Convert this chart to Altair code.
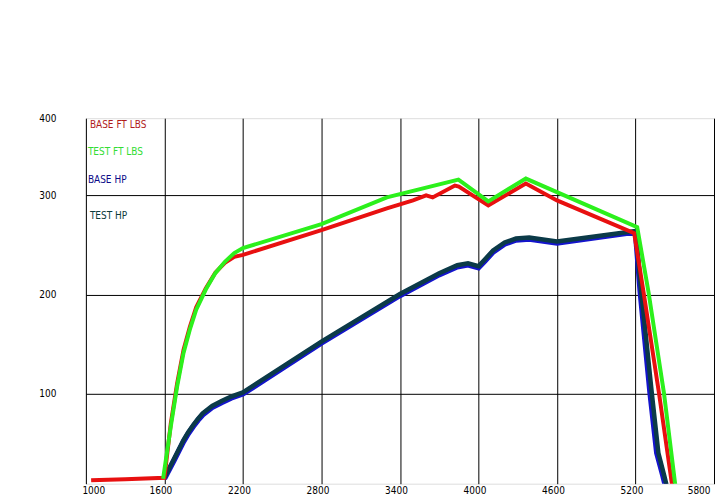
import altair as alt
import pandas as pd

# ---- data ----
base_tq_rpm = [1040, 1300, 1600, 1649, 1697, 1746, 1794, 1843, 1916, 1989, 2062, 2134, 2200, 2800, 3300, 3500, 3600, 3650, 3820, 3850, 4075, 4362, 4600, 5190, 5262, 5380, 5490]
base_tq = [12.5, 13.5, 15, 70, 110, 144, 167, 187, 206, 222, 232, 238, 240, 265, 287, 295, 300, 298, 310, 309, 290, 312, 295, 262, 202, 100, -2]

test_tq_rpm = [1590, 1649, 1697, 1746, 1794, 1843, 1916, 1989, 2062, 2134, 2200, 2800, 3300, 3847, 4075, 4362, 5213, 5300, 5418, 5513]
test_tq = [14, 67, 107, 141, 164.5, 184.6, 205, 221.6, 233, 241.8, 246.8, 271, 298, 316, 294, 317, 268, 202, 100, -2]

base_hp_rpm = [1600, 1673, 1746, 1782, 1819, 1856, 1892, 1965, 2037, 2110, 2200, 2800, 3400, 3700, 3838, 3920, 4000, 4050, 4112, 4200, 4287, 4388, 4600, 5200, 5237, 5312, 5363, 5410, 5445]
base_hp = [14, 32.5, 51.5, 59.5, 66.5, 73, 78.5, 86, 91, 95.6, 99.7, 151, 199, 220, 228, 230, 227, 234, 243, 251, 255, 256, 252, 263, 202, 100, 40, 17, -2]

test_hp_rpm = [1600, 1673, 1746, 1782, 1819, 1856, 1892, 1965, 2037, 2110, 2200, 2800, 3400, 3700, 3838, 3920, 4000, 4050, 4112, 4200, 4287, 4388, 4600, 5200, 5245, 5325, 5375, 5420, 5455]
test_hp = [15, 34, 53, 61, 68, 74.5, 80, 87.5, 92.5, 97, 101.2, 152.5, 200.5, 221.5, 229.5, 231.5, 228.5, 235.5, 244.5, 252.5, 256.5, 257.5, 253.5, 264, 202, 100, 40, 17, -2]

series_names = ["BASE FT LBS", "TEST FT LBS", "BASE HP", "TEST HP"]
line_colors = ["#e81010", "#2cf01c", "#1414cc", "#0b3a48"]
label_colors = ["#b01c1c", "#33dd33", "#0a0a88", "#0b3b3b"]

x_ticks = [1000, 1600, 2200, 2800, 3400, 4000, 4600, 5200, 5800]
y_ticks = [100, 200, 300, 378]

FONT = "DejaVu Sans Condensed, Liberation Sans, sans-serif"

def frame(rpm, vals, name):
    return pd.DataFrame({"rpm": rpm, "value": vals, "series": name})

x_enc = alt.X(
    "rpm:Q",
    scale=alt.Scale(domain=[1000, 5800], nice=False, zero=False),
    axis=alt.Axis(
        values=x_ticks, title=None, grid=True, gridColor="black", gridWidth=1,
        gridOpacity=1, domain=False, ticks=False, labelFont=FONT, labelFontSize=10,
        labelColor="black", labelPadding=2, labelFlush=True, labelOffset=-4,
        format="d",
    ),
)
y_enc = alt.Y(
    "value:Q",
    scale=alt.Scale(domain=[9, 378], nice=False, zero=False),
    axis=alt.Axis(
        values=y_ticks, title=None, grid=True, gridColor="black", gridWidth=1,
        gridOpacity=alt.condition("datum.value > 350", alt.value(0), alt.value(1)),
        domain=False, ticks=False, labelFont=FONT, labelFontSize=10,
        labelColor="black", labelPadding=30,
        labelExpr="datum.value > 350 ? '400' : format(datum.value, 'd')",
    ),
)

def line(df, color, width):
    return alt.Chart(df).mark_line(color=color, strokeWidth=width, clip=True).encode(
        x=x_enc, y=y_enc
    )

layers = [
    line(frame(base_hp_rpm, base_hp, series_names[2]), line_colors[2], 5.5),
    line(frame(test_hp_rpm, test_hp, series_names[3]), line_colors[3], 4.5),
    line(frame(base_tq_rpm, base_tq, series_names[0]), line_colors[0], 4),
    line(frame(test_tq_rpm, test_tq, series_names[1]), line_colors[1], 4),
]

legend_px = [(4, 7), (2, 34), (2, 62), (4, 98)]
for name, col, (px, py) in zip(series_names, label_colors, legend_px):
    layers.append(
        alt.Chart(pd.DataFrame({"t": [name]})).mark_text(
            align="left", baseline="middle", font=FONT, fontSize=10, color=col
        ).encode(text="t:N", x=alt.value(px), y=alt.value(py))
    )

chart = alt.layer(*layers).properties(
    width=629, height=366,
    autosize=alt.AutoSizeParams(type="none"),
    padding={"left": 78, "top": 110, "right": 2, "bottom": 12},
).configure_view(stroke=None).configure(background="white")

chart.save("out.html", embed_options={"renderer": "svg", "actions": False})
